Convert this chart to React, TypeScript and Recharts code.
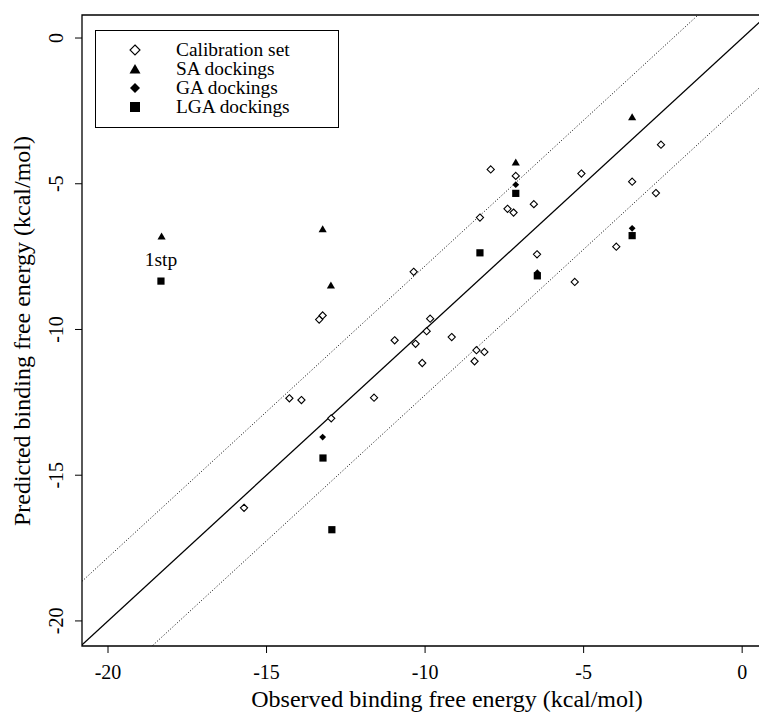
import React from "react";
import { ScatterChart, Scatter, XAxis, YAxis, ReferenceLine, ReferenceArea, ReferenceDot } from "recharts";

// observed, predicted (kcal/mol)
const calibration = [
  { x: -15.71, y: -16.12 }, { x: -14.28, y: -12.36 }, { x: -13.9, y: -12.42 },
  { x: -13.34, y: -9.66 }, { x: -13.23, y: -9.52 }, { x: -12.96, y: -13.05 },
  { x: -11.61, y: -12.34 }, { x: -10.96, y: -10.37 }, { x: -10.36, y: -8.02 },
  { x: -10.3, y: -10.49 }, { x: -10.09, y: -11.15 }, { x: -9.95, y: -10.06 },
  { x: -9.84, y: -9.63 }, { x: -9.16, y: -10.26 }, { x: -8.44, y: -11.09 },
  { x: -8.38, y: -10.71 }, { x: -8.13, y: -10.77 }, { x: -8.27, y: -6.16 },
  { x: -7.93, y: -4.51 }, { x: -7.4, y: -5.86 }, { x: -7.21, y: -5.99 },
  { x: -7.14, y: -4.73 }, { x: -6.57, y: -5.7 }, { x: -6.47, y: -7.42 },
  { x: -5.28, y: -8.37 }, { x: -5.07, y: -4.65 }, { x: -3.97, y: -7.16 },
  { x: -3.47, y: -4.93 }, { x: -2.72, y: -5.32 }, { x: -2.56, y: -3.66 },
];
const saDockings = [
  { x: -18.31, y: -6.8 }, { x: -13.23, y: -6.55 }, { x: -12.97, y: -8.48 },
  { x: -7.14, y: -4.26 }, { x: -3.47, y: -2.71 },
];
const gaDockings = [
  { x: -13.23, y: -13.69 }, { x: -7.14, y: -5.03 }, { x: -6.46, y: -8.05 }, { x: -3.47, y: -6.53 },
];
const lgaDockings = [
  { x: -18.33, y: -8.34 }, { x: -13.22, y: -14.41 }, { x: -12.94, y: -16.87 },
  { x: -8.27, y: -7.37 }, { x: -7.14, y: -5.33 }, { x: -6.46, y: -8.16 }, { x: -3.47, y: -6.78 },
];
const ticks = [-20, -15, -10, -5, 0];
// the original figure is cut off on the right, so the x range runs past the image edge
const xDomain = [-20.82, 2.36];
const yDomain = [-20.86, 0.79];
const bandOffset = [2.18, -2.25];

const FONT = "'Liberation Serif', 'Times New Roman', serif";

const OpenDiamond = ({ cx, cy, s = 3.6 }: any) => (
  <polygon points={`${cx},${cy - s} ${cx + s},${cy} ${cx},${cy + s} ${cx - s},${cy}`} fill="#fff" stroke="#000" strokeWidth={1.1} />
);
const Triangle = ({ cx, cy, s = 3.7 }: any) => (
  <polygon points={`${cx},${cy - s} ${cx + s * 1.1},${cy + s * 0.9} ${cx - s * 1.1},${cy + s * 0.9}`} fill="#000" />
);
const Diamond = ({ cx, cy, s = 3.4 }: any) => (
  <polygon points={`${cx},${cy - s} ${cx + s},${cy} ${cx},${cy + s} ${cx - s},${cy}`} fill="#000" />
);
const Square = ({ cx, cy, s = 3.6 }: any) => (
  <rect x={cx - s} y={cy - s} width={s * 2} height={s * 2} fill="#000" />
);

const XTick = ({ x, y, payload }: any) => (
  <text x={x} y={y} dy={24} textAnchor="middle" fontFamily={FONT} fontSize={20} fill="#000">
    {payload.value}
  </text>
);
const YTick = ({ x, y, payload }: any) => (
  <text transform={`translate(${x - 12},${y}) rotate(-90)`} textAnchor="middle" fontFamily={FONT} fontSize={20} fill="#000">
    {payload.value}
  </text>
);

const legendItems = [
  { label: "Calibration set", Shape: OpenDiamond },
  { label: "SA dockings", Shape: Triangle },
  { label: "GA dockings", Shape: Diamond },
  { label: "LGA dockings", Shape: Square },
];

export default function App() {
  return (
    <div style={{ position: "absolute", left: 0, top: 0, width: 759, height: 719, overflow: "hidden", background: "#fff" }}>
      <ScatterChart width={818} height={719} margin={{ top: 15, right: 1, bottom: 0, left: 0 }}>
        <XAxis
          type="number"
          dataKey="x"
          domain={xDomain}
          ticks={ticks}
          height={73}
          allowDataOverflow
          axisLine={false}
          tickSize={7}
          tickLine={{ stroke: "#000" }}
          tick={<XTick />}
        />
        <YAxis
          type="number"
          dataKey="y"
          domain={yDomain}
          ticks={ticks}
          width={82}
          allowDataOverflow
          axisLine={false}
          tickSize={7}
          tickMargin={0}
          tickLine={{ stroke: "#000" }}
          tick={<YTick />}
        />
        <ReferenceArea x1={xDomain[0]} x2={xDomain[1]} y1={yDomain[0]} y2={yDomain[1]} fill="none" stroke="#000" strokeWidth={1.3} />
        <ReferenceLine segment={[{ x: -25, y: -25 }, { x: 5, y: 5 }]} stroke="#000" strokeWidth={1.3} ifOverflow="hidden" />
        {bandOffset.map((o) => (
          <ReferenceLine
            key={o}
            segment={[{ x: -25, y: -25 + o }, { x: 5, y: 5 + o }]}
            stroke="#000"
            strokeWidth={1}
            strokeDasharray="1 2"
            ifOverflow="hidden"
          />
        ))}
        <Scatter data={calibration} shape={<OpenDiamond />} isAnimationActive={false} />
        <Scatter data={saDockings} shape={<Triangle />} isAnimationActive={false} />
        <Scatter data={gaDockings} shape={<Diamond />} isAnimationActive={false} />
        <Scatter data={lgaDockings} shape={<Square />} isAnimationActive={false} />
        <ReferenceDot
          x={-18.33}
          y={-7.6}
          r={0}
          fill="none"
          stroke="none"
          label={{ value: "1stp", fontFamily: FONT, fontSize: 19.5, fill: "#000", position: "center" }}
        />
      </ScatterChart>
      <svg style={{ position: "absolute", left: 0, top: 0, pointerEvents: "none" }} width={759} height={719}>
        <rect x={95.5} y={30.5} width={243} height={97} fill="#fff" stroke="#000" strokeWidth={1} />
        {legendItems.map(({ label, Shape }, i) => (
          <g key={label}>
            <Shape cx={135} cy={50 + i * 19} s={5} />
            <text x={176} y={56 + i * 19} fontFamily={FONT} fontSize={19.4} fill="#000">
              {label}
            </text>
          </g>
        ))}
        <text x={447} y={707} textAnchor="middle" fontFamily={FONT} fontSize={24} fill="#000">
          Observed binding free energy (kcal/mol)
        </text>
        <text transform="translate(30,331) rotate(-90)" textAnchor="middle" fontFamily={FONT} fontSize={24} fill="#000">
          Predicted binding free energy (kcal/mol)
        </text>
      </svg>
    </div>
  );
}
